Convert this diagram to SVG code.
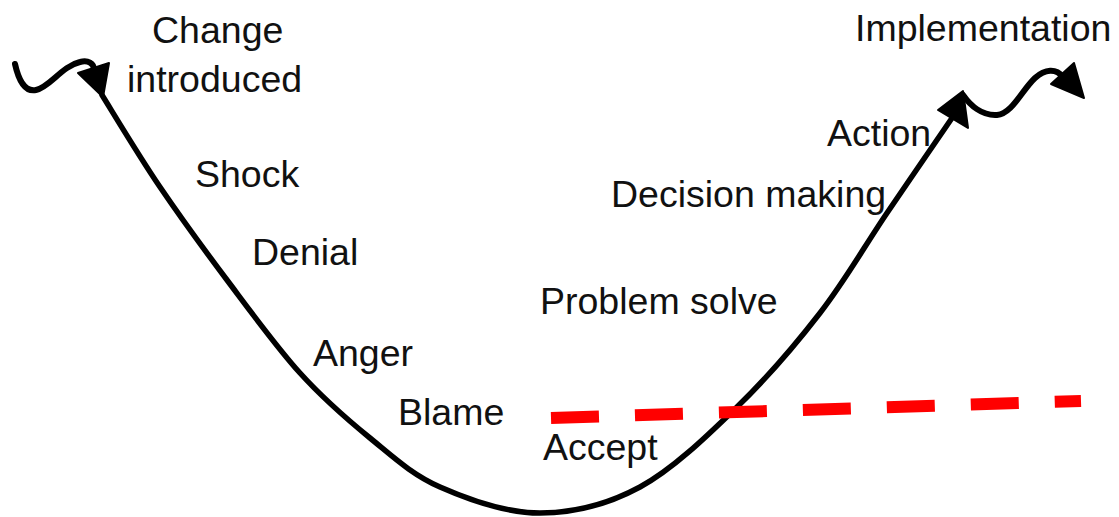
<svg xmlns="http://www.w3.org/2000/svg" width="1119" height="517" viewBox="0 0 1119 517">
<style>
.lbl{font-family:"Liberation Sans",Arial,sans-serif;font-size:37.5px;fill:#111}
.curve{fill:none;stroke:#000;stroke-width:5.5;stroke-linecap:round;stroke-linejoin:round}
.squig{fill:none;stroke:#000;stroke-width:6;stroke-linecap:round}
.head{fill:#000;stroke:#000;stroke-width:2;stroke-linejoin:round}
.dash{stroke:#ff0000;stroke-width:12;stroke-dasharray:48 36;fill:none}
</style>
<rect width="1119" height="517" fill="#fff"/>
<g id="connectors">
<path class="curve" d="M102,95 C112,111 138.8,155.8 160,187 C181.2,218.2 203.7,249 227,280 C250.3,311 276.2,346.7 300,373 C323.8,399.3 346.7,419 370,438 C393.3,457 411.7,474.5 440,487 C468.3,499.5 506.7,513 540,513 C573.3,513 607.2,504.7 640,487 C672.8,469.3 707,436 737,407 C767,378 795,345.3 820,313 C845,280.7 865,245.5 887,213 C909,180.5 941.2,133.8 952,118"/>
<path class="squig" d="M15,64 C19,82 26,92 36,90 C50,87 62,66 80,62 C88,60 94,63 94,70"/>
<polygon class="head" points="78,73 109,63 103,97"/>
<polygon class="head" points="938,110 963,91 968,128"/>
<path class="squig" d="M963,95 C970,105 982,116 997,115 C1012,114 1022,90 1035,78 C1045,69 1056,68 1063,77"/>
<polygon class="head" points="1051,84 1074,63 1084,98"/>
<line class="dash" x1="551" y1="418" x2="1081" y2="401"/>
</g>
<g id="change-introduced"><text class="lbl" x="152" y="43">Change</text><text class="lbl" x="127" y="92">introduced</text></g>
<g id="shock"><text class="lbl" x="195" y="187">Shock</text></g>
<g id="denial"><text class="lbl" x="252" y="265">Denial</text></g>
<g id="anger"><text class="lbl" x="313" y="366">Anger</text></g>
<g id="blame"><text class="lbl" x="398" y="425">Blame</text></g>
<g id="accept"><text class="lbl" x="543" y="460">Accept</text></g>
<g id="problem-solve"><text class="lbl" x="540" y="314">Problem solve</text></g>
<g id="decision-making"><text class="lbl" x="611" y="207">Decision making</text></g>
<g id="action"><text class="lbl" x="827" y="146">Action</text></g>
<g id="implementation"><text class="lbl" x="855" y="41">Implementation</text></g>
</svg>
